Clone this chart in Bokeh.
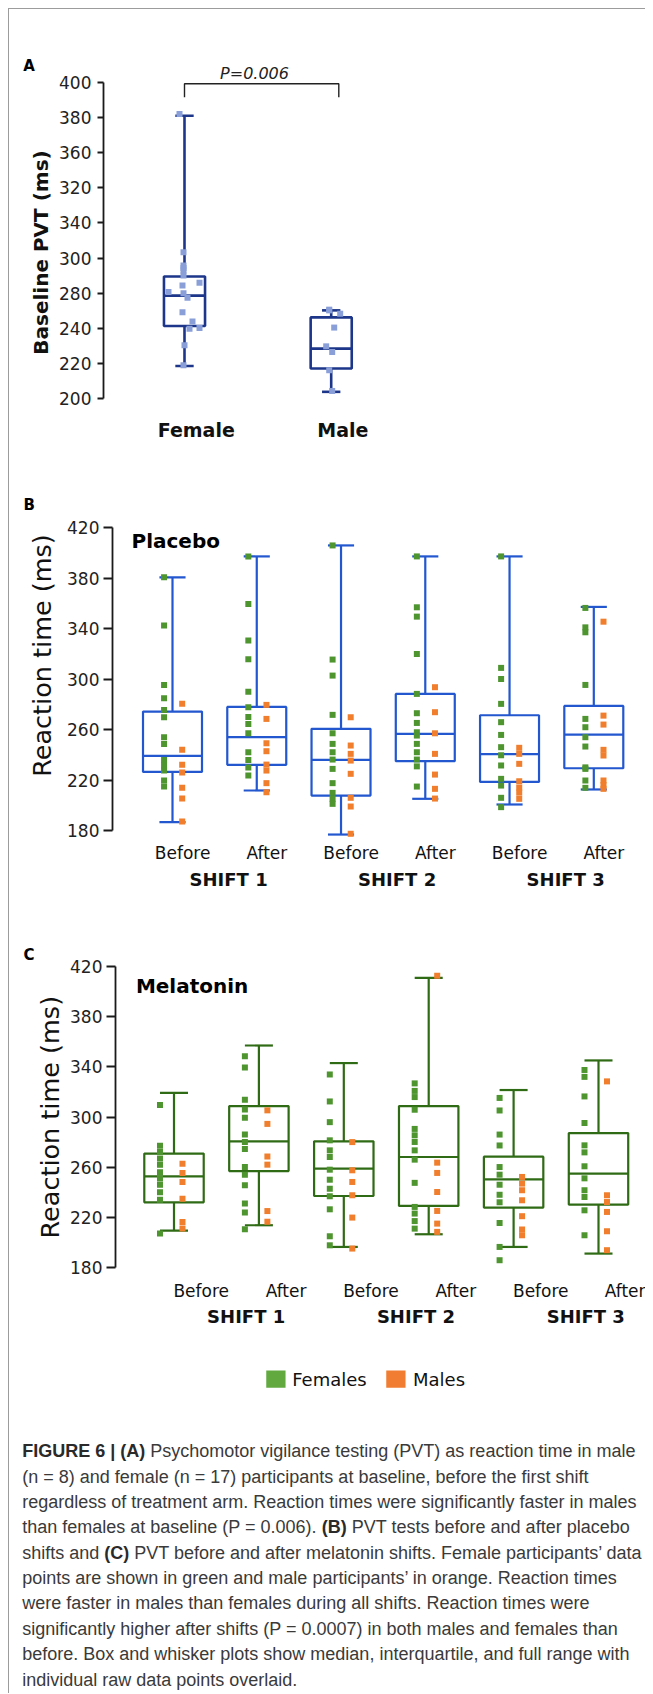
import math
from bokeh.plotting import figure
from bokeh.models import Range1d, FixedTicker, Label, LinearAxis
from bokeh.layouts import column
from bokeh.embed import file_html
from bokeh.resources import INLINE
from bokeh.core.properties import value

FONT = "DejaVu Sans"
CAP_FONT = "Liberation Sans"

# ---------------- Panel A data (baseline PVT) ----------------
a_groups = ["Female", "Male"]
a_min = [218.5, 203.8]
a_q1 = [241.3, 217.1]
a_med = [258.6, 228.4]
a_q3 = [269.5, 246.2]
a_max = [361.1, 250.2]
a_female_pts = [362.0, 283.3, 275.8, 274.4, 272.9, 270.1, 265.9, 264.4, 260.6,
                260.0, 257.4, 249.2, 243.9, 239.8, 240.1, 230.3, 218.9]
a_male_pts = [250.6, 248.3, 240.4, 229.7, 226.5, 216.1, 204.3, 250.2]
a_tick_pos = [200, 220, 240, 260, 280, 300, 320, 340, 360, 380]
a_tick_labels = ["200", "220", "240", "280", "300", "340", "320", "360", "380", "400"]
a_pvalue = "P=0.006"

# ---------------- Panel B data (placebo) ----------------
phase_labels = ["Before", "After", "Before", "After", "Before", "After"]
shift_labels = ["SHIFT 1", "SHIFT 2", "SHIFT 3"]
b_min = [186.6, 211.7, 176.8, 205.1, 200.6, 212.5]
b_q1 = [226.4, 232.0, 207.7, 234.9, 218.5, 229.3]
b_med = [239.1, 253.9, 235.9, 256.5, 240.5, 256.0]
b_q3 = [274.2, 277.9, 260.5, 288.2, 271.3, 278.7]
b_max = [380.5, 397.1, 405.8, 397.1, 397.1, 357.1]
b_fem = [
    [380.5, 342.3, 295.3, 284.7, 275.5, 269.7, 253.9, 248.6, 235.9, 231.5, 227.5, 219.6, 214.8],
    [397.1, 359.4, 330.4, 315.6, 290.0, 277.6, 270.0, 264.4, 257.0, 242.0, 235.9, 230.0, 223.5],
    [405.8, 315.4, 302.7, 271.6, 257.0, 248.6, 242.0, 236.2, 228.8, 217.5, 209.8, 205.1, 201.1],
    [397.1, 356.8, 349.4, 319.8, 288.2, 272.9, 265.2, 257.8, 255.2, 248.6, 242.0, 236.2, 230.8, 214.8],
    [397.1, 308.8, 300.0, 280.3, 265.8, 255.7, 246.0, 239.6, 231.5, 220.9, 215.6, 205.9, 198.5],
    [356.3, 340.9, 337.0, 295.3, 268.4, 261.8, 253.9, 246.5, 230.0, 228.8, 219.6, 213.8],
]
b_mal = [
    [280.3, 243.9, 232.0, 226.0, 213.8, 205.3, 187.1],
    [279.5, 268.4, 249.1, 242.8, 232.2, 227.5, 217.5, 210.3],
    [269.7, 247.3, 240.7, 235.4, 224.9, 205.9, 199.0, 177.4],
    [293.5, 273.7, 257.0, 240.7, 224.3, 213.0, 205.3],
    [245.5, 240.7, 232.8, 219.0, 214.0, 210.0, 205.1],
    [345.4, 271.0, 263.9, 243.9, 239.4, 219.6, 216.0, 213.0],
]

# ---------------- Panel C data (melatonin) ----------------
c_min = [209.4, 213.7, 196.4, 206.5, 196.4, 191.1]
c_q1 = [232.0, 256.9, 237.0, 229.1, 227.8, 230.2]
c_med = [252.7, 280.6, 258.8, 268.1, 250.3, 254.9]
c_q3 = [270.8, 308.7, 280.6, 308.7, 268.4, 287.2]
c_max = [319.3, 357.0, 343.0, 410.9, 321.5, 345.1]
c_fem = [
    [309.5, 277.0, 272.0, 267.0, 262.0, 256.0, 251.0, 246.0, 240.0, 234.0, 207.1],
    [348.5, 339.5, 313.8, 306.0, 299.5, 286.0, 280.0, 274.5, 260.1, 254.0, 245.5, 231.0, 223.8, 210.5],
    [333.9, 312.4, 295.9, 281.4, 273.4, 268.1, 258.0, 250.0, 242.8, 236.8, 226.4, 204.9, 197.7],
    [326.8, 320.8, 315.9, 305.8, 290.5, 285.4, 280.1, 273.4, 266.0, 247.5, 228.3, 223.0, 217.0, 211.0],
    [315.2, 305.2, 286.0, 277.3, 260.1, 254.0, 246.0, 238.0, 232.0, 215.5, 196.4, 185.8],
    [337.5, 332.0, 316.4, 295.2, 277.4, 271.8, 260.7, 251.1, 241.6, 236.2, 225.6, 205.7],
]
c_mal = [
    [262.7, 255.3, 248.1, 234.9, 216.3, 211.0],
    [305.3, 294.5, 268.5, 262.0, 225.0, 216.5],
    [280.0, 257.5, 248.2, 237.6, 219.8, 195.1],
    [412.7, 263.6, 255.4, 240.2, 225.1, 215.0, 208.4],
    [252.2, 246.9, 241.6, 233.6, 220.9, 210.3, 205.7],
    [328.4, 237.6, 232.2, 224.3, 208.9, 193.8],
]
rt_ticks = [180, 220, 260, 300, 340, 380, 420]

legend_labels = ["Females", "Males"]

caption_lines = [
    [("FIGURE 6 |", True), ("(A)", True), ("Psychomotor vigilance testing (PVT) as reaction time in male", False)],
    [("(n = 8) and female (n = 17) participants at baseline, before the first shift", False)],
    [("regardless of treatment arm. Reaction times were significantly faster in males", False)],
    [("than females at baseline (P = 0.006).", False), ("(B)", True), ("PVT tests before and after placebo", False)],
    [("shifts and", False), ("(C)", True), ("PVT before and after melatonin shifts. Female participants\u2019 data", False)],
    [("points are shown in green and male participants\u2019 in orange. Reaction times", False)],
    [("were faster in males than females during all shifts. Reaction times were", False)],
    [("significantly higher after shifts (P = 0.0007) in both males and females than", False)],
    [("before. Box and whisker plots show median, interquartile, and full range with", False)],
    [("individual raw data points overlaid.", False)],
]

# ---------------- styles / layout ----------------
GREEN_PT = "#4e9530"
ORANGE_PT = "#f07e2c"
BLUE = "#2257cf"
DGREEN = "#2f6a14"
NAVY = "#1d3689"
A_PT = "#8a9fd8"
LEG_GREEN = "#62aa40"
LEG_ORANGE = "#f07d32"
W = 636
ORIGIN_X = 9  # page x of figures' left edge


class Panel:
    """Linear page-pixel <-> data mapping for one figure (frame covers the whole figure)."""

    def __init__(self, top, height, x_anchor_px, x_anchor, x_ppu, y_anchor_px, y_anchor, y_ppu):
        self.top, self.height = top, height
        self.xa_px, self.xa, self.xppu = x_anchor_px, x_anchor, x_ppu
        self.ya_px, self.ya, self.yppu = y_anchor_px, y_anchor, y_ppu

    def x(self, px):
        return self.xa + (px - self.xa_px) / self.xppu

    def y(self, py):
        return self.ya + (self.ya_px - py) / self.yppu

    def fig(self):
        p = figure(width=W, height=self.height,
                   x_range=Range1d(self.x(ORIGIN_X), self.x(ORIGIN_X + W)),
                   y_range=Range1d(self.y(self.top + self.height), self.y(self.top)),
                   output_backend="svg", toolbar_location=None,
                   x_axis_location=None, y_axis_location=None, min_border=0)
        p.frame_align = False
        p.outline_line_color = None
        p.grid.visible = False
        return p


def add_yaxis(p, loc, bounds, ticks, tick_out, standoff, lw, overrides=None):
    ax = LinearAxis(fixed_location=loc, bounds=bounds, ticker=FixedTicker(ticks=ticks),
                    minor_tick_line_color=None, major_tick_out=tick_out, major_tick_in=0,
                    axis_line_width=lw, major_tick_line_width=lw,
                    axis_line_color="#1a1a1a", major_tick_line_color="#1a1a1a",
                    major_label_text_font=FONT, major_label_text_font_size="17px",
                    major_label_text_color="#222222", major_label_standoff=standoff)
    if overrides:
        ax.major_label_overrides = overrides
    p.add_layout(ax, "left")


def add_label_axis(p, name, shift, loc, ticks, labels, size, bold):
    xr = p.x_range
    p.extra_x_ranges = {**p.extra_x_ranges, name: Range1d(xr.start - shift, xr.end - shift)}
    ax = LinearAxis(x_range_name=name, fixed_location=loc, ticker=FixedTicker(ticks=ticks),
                    major_label_overrides=dict(zip(ticks, labels)),
                    axis_line_color=None, major_tick_line_color=None,
                    minor_tick_line_color=None, major_tick_out=0, major_tick_in=0,
                    major_label_standoff=0,
                    major_label_text_font=FONT, major_label_text_font_size=size,
                    major_label_text_font_style="bold" if bold else "normal",
                    major_label_text_color="#111111")
    p.add_layout(ax, "below")


def draw_boxes(p, xs, mins, q1, med, q3, maxs, color, bw, cw, lw):
    p.segment(x0=xs, y0=q3, x1=xs, y1=maxs, line_color=color, line_width=lw)
    p.segment(x0=xs, y0=q1, x1=xs, y1=mins, line_color=color, line_width=lw)
    p.segment(x0=[x - cw / 2 for x in xs], y0=maxs, x1=[x + cw / 2 for x in xs], y1=maxs,
              line_color=color, line_width=lw)
    p.segment(x0=[x - cw / 2 for x in xs], y0=mins, x1=[x + cw / 2 for x in xs], y1=mins,
              line_color=color, line_width=lw)
    p.quad(left=[x - bw / 2 for x in xs], right=[x + bw / 2 for x in xs], top=q3, bottom=q1,
           fill_color=None, line_color=color, line_width=lw)
    p.segment(x0=[x - bw / 2 for x in xs], y0=med, x1=[x + bw / 2 for x in xs], y1=med,
              line_color=color, line_width=lw)


def flat_points(groups, offset):
    xs, ys = [], []
    for i, g in enumerate(groups):
        for v in g:
            xs.append(i + 1 + offset)
            ys.append(v)
    return xs, ys


def text_label(p, x, y, text, size, style="normal", align="left", baseline="middle",
               angle=0.0, color="#000000"):
    p.add_layout(Label(x=x, y=y, text=text, text_font=FONT, text_font_size=size,
                       text_font_style=style, text_align=align, text_baseline=baseline,
                       angle=angle, text_color=color))


# ================= Panel A =================
PA = Panel(top=9, height=452, x_anchor_px=184, x_anchor=1, x_ppu=146.7,
           y_anchor_px=398, y_anchor=200, y_ppu=316 / 180)
pa = PA.fig()
add_yaxis(pa, PA.x(103), (200, 380), a_tick_pos, 6, 6, 1.8,
          overrides=dict(zip(a_tick_pos, a_tick_labels)))
draw_boxes(pa, [1, 2], a_min, a_q1, a_med, a_q3, a_max, NAVY, 0.28, 0.125, 2.6)
fem_jit = [-5, -1, -1, -1, -1, -1, 15, -2, -16, -1, 3, -2, 8, 5, 15, 0, -1]
mal_jit = [-2, 9, 3, -5, 1, -2, 1, -2]
pa.scatter(x=[1 + j / PA.xppu for j in fem_jit], y=a_female_pts, marker="square", size=6,
           fill_color=A_PT, line_color=None)
pa.scatter(x=[2 + j / PA.xppu for j in mal_jit], y=a_male_pts, marker="square", size=6,
           fill_color=A_PT, line_color=None)
bx1, bx2 = PA.x(184), PA.x(338.3)
by_top, by_bot = PA.y(83.3), PA.y(96.7)
pa.line(x=[bx1, bx1, bx2, bx2], y=[by_bot, by_top, by_top, by_bot], line_color="#222222", line_width=1.4)
text_label(pa, PA.x(254), PA.y(73), a_pvalue, "16px", style="italic", align="center", color="#222222")
text_label(pa, PA.x(22.7), PA.y(65.3), "A", "15px", style="bold")
text_label(pa, PA.x(40), PA.y(252), "Baseline PVT (ms)", "20px", style="bold", align="center",
           angle=math.pi / 2, color="#111111")
add_label_axis(pa, "lab", 0.08, PA.y(418), [1, 2], a_groups, "19px", True)

# ================= Panel B =================
PB = Panel(top=461, height=440, x_anchor_px=172, x_anchor=1, x_ppu=84.26,
           y_anchor_px=830, y_anchor=180, y_ppu=303 / 240)
pb = PB.fig()
xs6 = [1, 2, 3, 4, 5, 6]
add_yaxis(pb, PB.x(112), (180, 420), rt_ticks, 9, 4, 1.8)
draw_boxes(pb, xs6, b_min, b_q1, b_med, b_q3, b_max, BLUE, 0.70, 0.31, 2.2)
fx, fy = flat_points(b_fem, -0.10)
mx, my = flat_points(b_mal, 0.115)
pb.scatter(x=fx, y=fy, marker="square", size=6, fill_color=GREEN_PT, line_color=None)
pb.scatter(x=mx, y=my, marker="square", size=6, fill_color=ORANGE_PT, line_color=None)
text_label(pb, PB.x(23), PB.y(504.5), "B", "15px", style="bold")
text_label(pb, PB.x(131), PB.y(540), "Placebo", "20px", style="bold")
text_label(pb, PB.x(41.5), PB.y(655), "Reaction time (ms)", "25.5px", align="center",
           angle=math.pi / 2, color="#111111")
add_label_axis(pb, "lab", 0.12, PB.y(842), xs6, phase_labels, "17px", False)
add_label_axis(pb, "shift", 0.666, PB.y(868.5), [1, 3, 5], shift_labels, "18px", True)

# ================= Panel C =================
PC = Panel(top=901, height=440, x_anchor_px=173.5, x_anchor=1, x_ppu=84.9,
           y_anchor_px=1267, y_anchor=180, y_ppu=301 / 240)
pc = PC.fig()
add_yaxis(pc, PC.x(115), (180, 420), rt_ticks, 9, 4, 1.8)
draw_boxes(pc, xs6, c_min, c_q1, c_med, c_q3, c_max, DGREEN, 0.70, 0.33, 2.2)
fx, fy = flat_points(c_fem, -0.165)
mx, my = flat_points(c_mal, 0.10)
pc.scatter(x=fx, y=fy, marker="square", size=6, fill_color=GREEN_PT, line_color=None)
pc.scatter(x=mx, y=my, marker="square", size=6, fill_color=ORANGE_PT, line_color=None)
text_label(pc, PC.x(23), PC.y(954), "C", "15px", style="bold")
text_label(pc, PC.x(135.4), PC.y(985), "Melatonin", "20px", style="bold")
text_label(pc, PC.x(49.6), PC.y(1116.7), "Reaction time (ms)", "25.5px", align="center",
           angle=math.pi / 2, color="#111111")
add_label_axis(pc, "lab", 0.32, PC.y(1280.3), xs6, phase_labels, "17px", False)
add_label_axis(pc, "shift", 0.85, PC.y(1305), [1, 3, 5], shift_labels, "18px", True)

# ================= Legend + caption =================
DH = 352
pd_ = figure(width=W, height=DH, x_range=Range1d(0, W), y_range=Range1d(DH, 0),
             output_backend="svg", toolbar_location=None, x_axis_location=None,
             y_axis_location=None, min_border=0)
pd_.frame_align = False
pd_.outline_line_color = None
pd_.grid.visible = False
pd_.rect(x=[266.4, 386.4], y=[37.7, 37.7], width=19.3, height=17.3,
         fill_color=[LEG_GREEN, LEG_ORANGE], line_color=None)
pd_.text(x=[282.7, 403.5], y=[37.5, 37.5], text=legend_labels, text_font=value(FONT),
         text_font_size="18px", text_baseline="middle", text_align="left", text_color="#111111")

CAP_SIZE = 18
# approximate advance widths (em) of Liberation Sans, used to chain bold/regular runs
REG_W = {' ': .278, '(': .333, ')': .333, '.': .278, '=': .584, '0': .556, '6': .556, 'P': .667,
         'a': .556, 'b': .556, 'd': .556, 'e': .556, 'f': .278, 'h': .556, 'i': .222, 'l': .222,
         'm': .833, 'n': .556, 's': .5, 't': .278}
BOLD_W = {' ': .278, 'F': .611, 'I': .278, 'G': .778, 'U': .722, 'R': .722, 'E': .667, '6': .556,
          '|': .280, '(': .333, ')': .333, 'A': .722, 'B': .722, 'C': .722}


def run_width(txt, isb):
    tab = BOLD_W if isb else REG_W
    return sum(tab.get(c, 0.55) for c in txt) * CAP_SIZE


reg = {"x": [], "y": [], "t": []}
bold = {"x": [], "y": [], "t": []}
for k, line in enumerate(caption_lines):
    yk = 109.7 + 25.37 * k
    xx = 12.7
    for txt, isb in line:
        d = bold if isb else reg
        d["x"].append(xx)
        d["y"].append(yk)
        d["t"].append(txt)
        xx += run_width(txt, isb) + 0.278 * CAP_SIZE
pd_.text(x=reg["x"], y=reg["y"], text=reg["t"], text_font=value(CAP_FONT),
         text_font_size=f"{CAP_SIZE}px", text_baseline="middle", text_align="left",
         text_color="#3a3a3a")
pd_.text(x=bold["x"], y=bold["y"], text=bold["t"], text_font=value(CAP_FONT),
         text_font_size=f"{CAP_SIZE}px", text_font_style="bold", text_baseline="middle",
         text_align="left", text_color="#2a2a2a")

layout = column(pa, pb, pc, pd_, spacing=0,
                styles={"margin-left": "8px", "margin-top": "8px",
                        "border-top": "1px solid #9c9c9c", "border-left": "1px solid #9c9c9c"})

open("out.html", "w").write(file_html(layout, INLINE))
